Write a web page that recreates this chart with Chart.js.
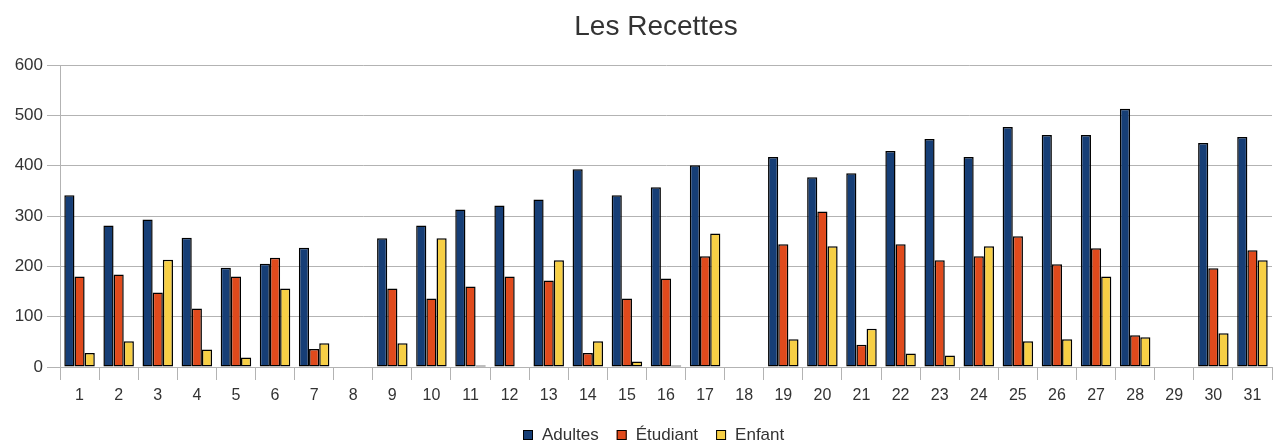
<!DOCTYPE html>
<html>
<head>
<meta charset="utf-8">
<script src="https://cdn.jsdelivr.net/npm/chart.js@4/dist/chart.umd.min.js"></script>
<style>
  html, body { margin: 0; padding: 0; background: #ffffff; }
  #wrap { width: 1274px; height: 448px; }
</style>
</head>
<body>
<div id="wrap"><canvas id="c" width="1274" height="448"></canvas></div>
<script>
const chartTitle = 'Les Recettes';
const categories = ['1','2','3','4','5','6','7','8','9','10','11','12','13','14','15','16','17','18','19','20','21','22','23','24','25','26','27','28','29','30','31'];
const seriesNames = ['Adultes', 'Étudiant', 'Enfant'];
const adultes  = [341,281,293,257,197,205,237,0,256,281,313,321,333,393,341,357,401,0,417,377,385,429,453,417,477,461,461,513,0,445,457];
const etudiant = [180,184,148,116,180,217,36,0,156,136,160,180,172,28,136,176,220,0,244,309,44,244,212,220,260,204,236,63,0,196,232];
const enfant   = [28,51,213,35,19,156,47,0,47,256,3,1,212,51,11,3,265,0,55,240,76,27,23,240,51,55,180,59,0,67,212];
const yTicks = [0,100,200,300,400,500,600];

const seriesColors = ['#163e76', '#e04a1c', '#f7cf45'];
const FONT = '"Liberation Sans", Arial, sans-serif';
const GRID = '#b3b3b3';

const titleLegendPlugin = {
  id: 'titleLegend',
  beforeDraw(chart) {
    const ctx = chart.ctx;
    ctx.save();
    ctx.fillStyle = '#ffffff';
    ctx.fillRect(0, 0, chart.width, chart.height);
    ctx.restore();
  },
  afterDraw(chart) {
    const ctx = chart.ctx;
    ctx.save();
    // title
    ctx.font = '28px ' + FONT;
    ctx.fillStyle = '#333333';
    ctx.textAlign = 'center';
    ctx.textBaseline = 'middle';
    ctx.fillText(chartTitle, 656, 27);
    // legend
    ctx.font = '17px ' + FONT;
    ctx.textAlign = 'left';
    let x = 523;
    const y = 435;
    chart.data.datasets.forEach((ds, i) => {
      ctx.fillStyle = ds.backgroundColor;
      ctx.fillRect(x, y - 5, 10, 10);
      ctx.strokeStyle = '#000000';
      ctx.lineWidth = 1;
      ctx.strokeRect(x + 0.5, y - 4.5, 9, 9);
      ctx.fillStyle = '#333333';
      const tx = x + 19;
      ctx.fillText(ds.label, tx, y);
      x = tx + ctx.measureText(ds.label).width + 18;
    });
    ctx.restore();
  }
};

new Chart(document.getElementById('c'), {
  type: 'bar',
  data: {
    labels: categories,
    datasets: [
      { label: seriesNames[0], data: adultes,  backgroundColor: seriesColors[0] },
      { label: seriesNames[1], data: etudiant, backgroundColor: seriesColors[1] },
      { label: seriesNames[2], data: enfant,   backgroundColor: seriesColors[2] }
    ]
  },
  options: {
    responsive: false,
    animation: false,
    devicePixelRatio: 1,
    layout: { padding: { top: 65, left: 0, right: 2, bottom: 0 } },
    datasets: { bar: { categoryPercentage: 0.78, barPercentage: 1.0, borderColor: '#000000', borderWidth: 1.5, borderSkipped: false } },
    plugins: {
      title: { display: false },
      legend: { display: false },
      tooltip: { enabled: false }
    },
    scales: {
      x: {
        offset: true,
        grid: { display: true, drawOnChartArea: false, drawTicks: true, tickLength: 13, color: GRID, offset: true },
        border: { display: true, color: GRID },
        ticks: { font: { family: FONT, size: 16 }, color: '#333333', padding: 6, maxRotation: 0, autoSkip: false },
        afterFit(scale) { scale.height = 81; }
      },
      y: {
        min: 0,
        max: 600,
        afterBuildTicks(scale) { scale.ticks = yTicks.map(v => ({ value: v })); },
        grid: { color: GRID, tickLength: 13, drawTicks: true },
        border: { display: true, color: GRID },
        ticks: { font: { family: FONT, size: 17 }, color: '#333333', padding: 4 },
        afterFit(scale) { scale.width = 60; }
      }
    }
  },
  plugins: [titleLegendPlugin]
});
</script>
</body>
</html>
